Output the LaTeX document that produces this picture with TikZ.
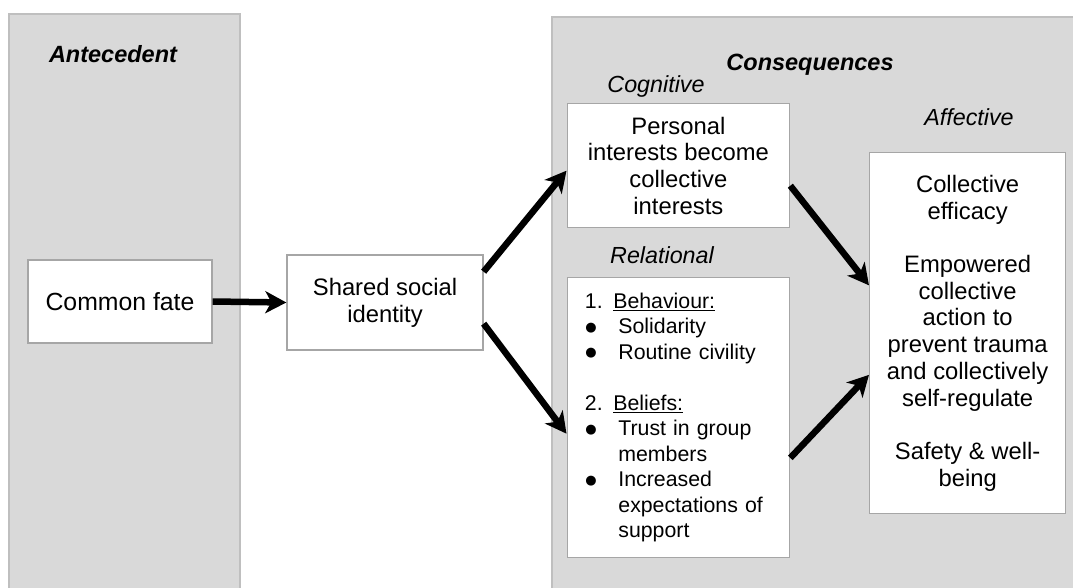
\documentclass[tikz,border=0pt]{standalone}
\usepackage{fontspec}
\setmainfont{Liberation Sans}
\newfontfamily\dotfont{DejaVu Sans}
\usetikzlibrary{arrows.meta,calc}
\definecolor{panelfill}{HTML}{D9D9D9}
\definecolor{panelline}{HTML}{BFBFBF}
\definecolor{boxline}{HTML}{A6A6A6}
% bullet with its hanging indent, and the matching indent for wrapped lines
\newcommand{\blt}{\makebox[33.5pt][l]{\hspace{0.5pt}\raisebox{2.8pt}{\dotfont\fontsize{13}{13}\selectfont ●}}}
\newcommand{\bltgap}{\hspace*{33.5pt}}
\begin{document}
\begin{tikzpicture}[x=1pt,y=-1pt,
  panel/.style={fill=panelfill},
  paneledge/.style={draw=panelline, line width=1.6pt},
  box/.style={draw=boxline, fill=white, line width=1.3pt, inner sep=0pt, align=center,
    font=\fontsize{23.8}{26.7}\selectfont},
  heading/.style={font=\fontsize{23.5}{28}\selectfont\bfseries\itshape, inner sep=0pt, anchor=base},
  sublabel/.style={font=\fontsize{23.3}{28}\selectfont\itshape, inner sep=0pt, anchor=base},
  flow/.style={-{Stealth[length=21pt,width=22pt,inset=6pt]}, line width=6.5pt, black},
]
\path[use as bounding box] (0,0) rectangle (1073,587);
\clip (0,0) rectangle (1073,587);

% background panels (open at the bottom / right)
\fill[panel] (9,14) rectangle (240,620);
\draw[paneledge] (9,620) -- (9,14) -- (240,14) -- (240,620);
\fill[panel] (552,17) rectangle (1090,620);
\draw[paneledge] (552,620) -- (552,17) -- (1090,17);

% headings
\node[heading] (hant) at (113,62) {Antecedent};
\node[heading] (hcon) at (810,70) {Consequences};
\node[sublabel] (hcog) at (656,92.5) {Cognitive};
\node[sublabel] (hrel) at (662,263) {Relational};
\node[sublabel] (haff) at (969,125) {Affective};

% boxes
\node[box, minimum width=184pt, minimum height=83pt, font=\fontsize{24.8}{28}\selectfont] (common) at (120,301.5) {Common fate};
\node[box, minimum width=196pt, minimum height=95pt] (shared) at (385,302.5)
  {Shared social\\identity};
\node[box, anchor=north west, minimum width=222.5pt, minimum height=124pt] (cog) at (566.5,103)
  {Personal\\interests become\\collective\\interests};
\node[box, anchor=north west, minimum width=196pt, minimum height=361pt] (aff) at (869,152)
  {Collective\\efficacy\\[26.7pt]Empowered\\collective\\action to\\prevent trauma\\and collectively\\self-regulate\\[26.7pt]Safety \& well-\\being};
\node[box, anchor=north west, minimum width=222.5pt, minimum height=280pt,
  text width=187pt, align=left, inner xsep=17.7pt,
  font=\fontsize{21.3}{25.5}\selectfont] (rel) at (566.5,277)
  {1. \underline{Behaviour:}\\
   \blt Solidarity\\
   \blt Routine civility\\[25.5pt]
   2. \underline{Beliefs:}\\
   \blt Trust in group\\
   \bltgap members\\
   \blt Increased\\
   \bltgap expectations of\\
   \bltgap support};

% connectors
\draw[flow] (common.east) -- (shared.west);
\draw[flow] ($(shared.north east)!0.18!(shared.south east)$) -- ($(cog.north west)!0.54!(cog.south west)$);
\draw[flow] ($(shared.north east)!0.72!(shared.south east)$) -- ($(rel.north west)!0.557!(rel.south west)$);
\draw[flow] ($(cog.north east)!0.66!(cog.south east)$) -- ($(aff.north west)!0.368!(aff.south west)$);
\draw[flow] ($(rel.north east)!0.643!(rel.south east)$) -- ($(aff.north west)!0.615!(aff.south west)$);
\end{tikzpicture}
\end{document}
